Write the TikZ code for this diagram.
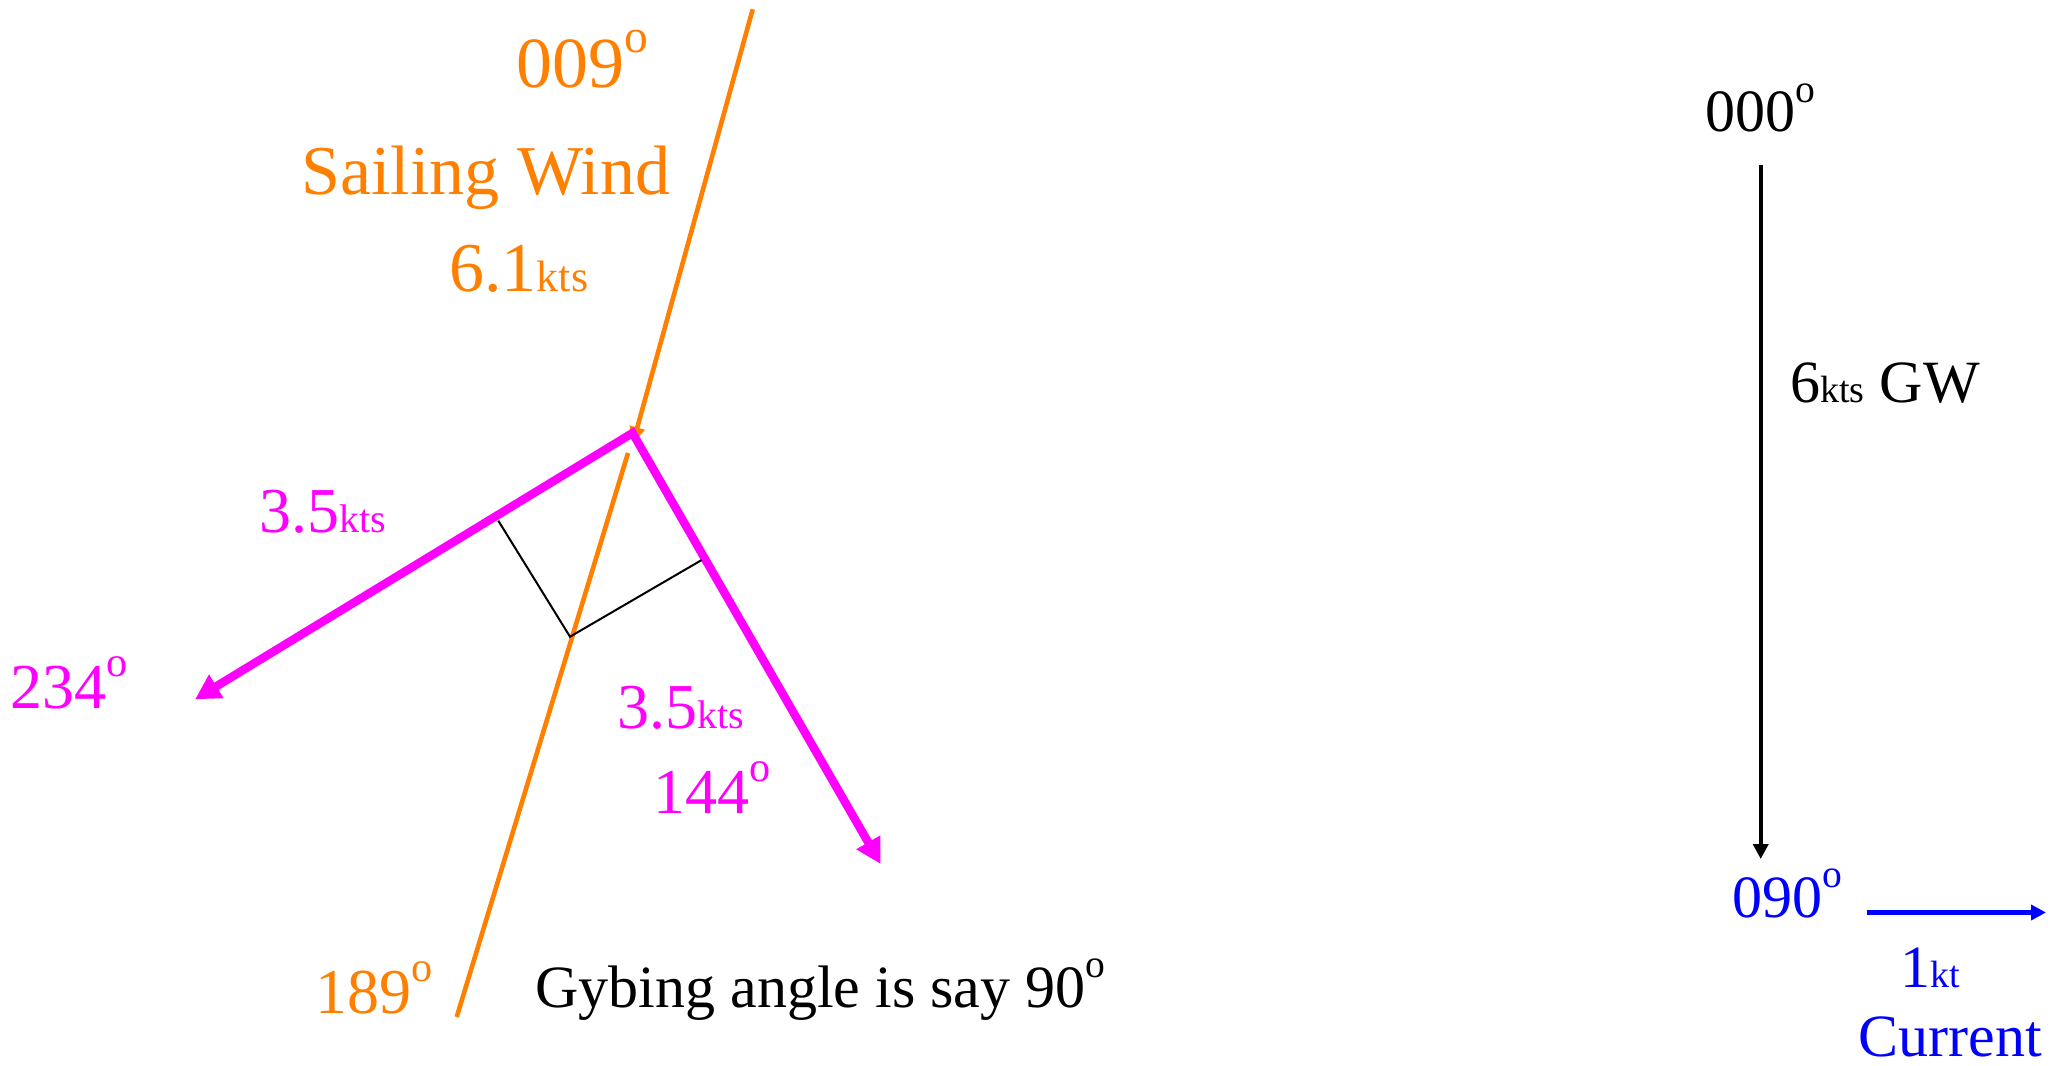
\documentclass[tikz,border=0pt]{standalone}
\usepackage{fontspec}
\setmainfont{Liberation Serif}
\usetikzlibrary{arrows.meta}
\definecolor{sorange}{RGB}{255,128,0}
\definecolor{smag}{RGB}{255,0,255}
\definecolor{sblue}{RGB}{0,0,255}
\newcommand{\fs}[1]{\fontsize{#1}{#1}\selectfont}
\makeatletter
\newcommand{\dg}{\raisebox{0.49em}{\fontsize{\fpeval{0.66*\f@size}}{0}\selectfont o}}
\makeatother
\begin{document}
\begin{tikzpicture}[x=0.5pt,y=-0.5pt,
  lbl/.style={inner sep=0pt, anchor=base west},
  olbl/.style={lbl, text=sorange, font=\fs{35}},
  mlbl/.style={lbl, text=smag, font=\fs{32}},
  klbl/.style={lbl, text=black, font=\fs{30}},
  blbl/.style={lbl, text=sblue, font=\fs{30}},
  orangeline/.style={draw=sorange, line width=2.3pt},
  magarrow/.style={draw=smag, line width=4.2pt, line join=miter},
  thinline/.style={draw=black, line width=1pt},
]
\useasboundingbox (0,0) rectangle (2059,1065);
% coordinates
\coordinate (otop) at (752.7,9.3);
\coordinate (otip) at (633,443);
\coordinate (olow) at (628,453);
\coordinate (obot) at (456.7,1017);
\coordinate (J) at (632.5,433);
\coordinate (mleft) at (195,699.3);
\coordinate (mright) at (880.7,864);
\coordinate (bl) at (498.3,520.7);
\coordinate (bm) at (570,636.7);
\coordinate (br) at (701.7,560);
\coordinate (gwtop) at (1760.7,165);
\coordinate (gwtip) at (1760.7,859);
\coordinate (cstart) at (1866.7,912.5);
\coordinate (cend) at (2046,912.5);
% orange wind line
\draw[orangeline, -{Triangle[length=8pt,width=7.5pt]}] (otop) -- (otip);
\draw[orangeline] (olow) -- (obot);
% magenta arrows
\draw[magarrow, {Triangle[length=12.5pt,width=13pt]}-{Triangle[length=12.5pt,width=13pt]}] (mleft) -- (J) -- (mright);
% black perpendiculars
\draw[thinline] (bl) -- (bm) -- (br);
% ground wind arrow
\draw[black, line width=2.2pt, -{Triangle[length=7.5pt,width=7.5pt]}] (gwtop) -- (gwtip);
% current arrow
\draw[sblue, line width=2.2pt, -{Triangle[length=7.5pt,width=7.5pt]}] (cstart) -- (cend);
% labels
\node[olbl, font=\fs{36}] (t009) at (516,88) {009\dg};
\node[olbl] (tsw) at (301,194) {Sailing Wind};
\node[olbl] (t61) at (449,291) {6.1{\fs{22}kts}};
\node[olbl, font=\fs{32}] (t189) at (315,1013) {189\dg};
\node[mlbl] (t35l) at (259,532) {3.5{\fs{20}kts}};
\node[mlbl] (t234) at (10,708) {234\dg};
\node[mlbl] (t35r) at (617,728) {3.5{\fs{20}kts}};
\node[mlbl] (t144) at (653,813) {144\dg};
\node[klbl] (tgyb) at (535,1007) {Gybing angle is say 90\dg};
\node[klbl] (t000) at (1705,132) {000\dg};
\node[klbl] (tgw) at (1790,402) {6{\fs{19}kts} GW};
\node[blbl] (t090) at (1732,917) {090\dg};
\node[blbl] (t1kt) at (1900,987) {1{\fs{19}kt}};
\node[blbl] (tcur) at (1858,1056) {Current};
\end{tikzpicture}
\end{document}
